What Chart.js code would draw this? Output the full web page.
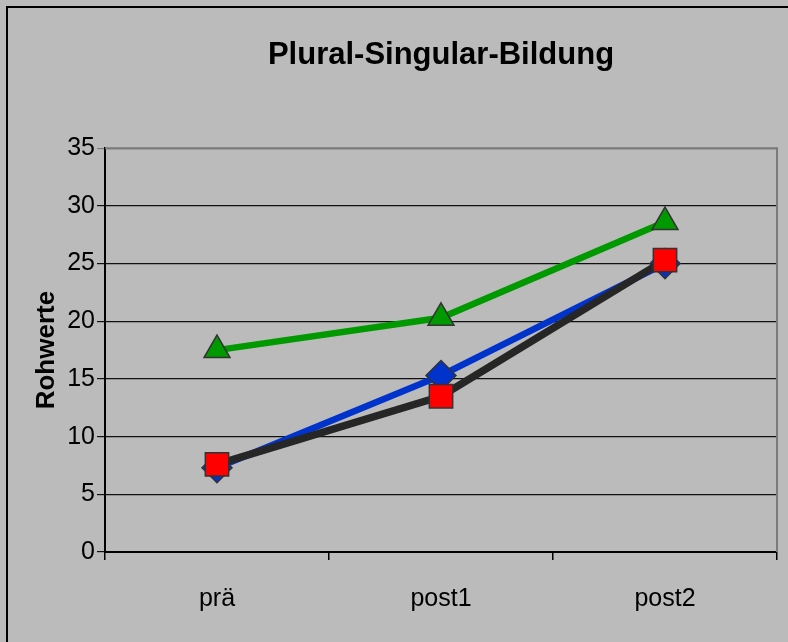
<!DOCTYPE html>
<html>
<head>
<meta charset="utf-8">
<script src="https://cdn.jsdelivr.net/npm/chart.js@4.4.0/dist/chart.umd.min.js"></script>
<style>
  html, body { margin: 0; padding: 0; background: #bbbbbb; overflow: hidden; }
  canvas { display: block; }
</style>
</head>
<body>
<canvas id="grafico" width="788" height="642"></canvas>
<script>
const kategorien = ['prä', 'post1', 'post2'];
const reiheBlau = [7.3, 15.3, 25.0];
const reiheSchwarz = [7.6, 13.5, 25.3];
const reiheGruen = [17.5, 20.3, 28.6];

// Rahmen oben/links und rechte/obere Kante der Zeichenfläche
const rahmen = {
    id: 'rahmen',
    beforeDraw(chart) {
        const ctx = chart.ctx;
        ctx.save();
        ctx.fillStyle = '#bbbbbb';
        ctx.fillRect(0, 0, chart.width, chart.height);
        ctx.strokeStyle = '#000';
        ctx.lineWidth = 2;
        ctx.beginPath();
        ctx.moveTo(7, chart.height);
        ctx.lineTo(7, 7);
        ctx.lineTo(chart.width, 7);
        ctx.stroke();
        ctx.restore();
    },
    beforeDatasetsDraw(chart) {
        const a = chart.chartArea;
        const ctx = chart.ctx;
        ctx.save();
        ctx.strokeStyle = '#7a7a7a';
        ctx.lineWidth = 2;
        ctx.beginPath();
        ctx.moveTo(a.left, a.top);
        ctx.lineTo(a.right, a.top);
        ctx.lineTo(a.right, a.bottom);
        ctx.stroke();
        ctx.restore();
    }
};

const config = {
    type: 'line',
    data: {
        labels: kategorien,
        datasets: [{
            data: reiheBlau,
            borderColor: '#0033cc',
            borderWidth: 6.5,
            pointStyle: 'rectRot',
            pointRadius: 15,
            pointBackgroundColor: '#0033cc',
            pointBorderColor: '#333333',
            pointBorderWidth: 1.5,
            order: 3
        }, {
            data: reiheSchwarz,
            borderColor: '#262626',
            borderWidth: 7.5,
            pointStyle: 'rect',
            pointRadius: 16.5,
            pointBackgroundColor: '#ff0000',
            pointBorderColor: '#333333',
            pointBorderWidth: 1.5,
            order: 2
        }, {
            data: reiheGruen,
            borderColor: '#009900',
            borderWidth: 6.5,
            pointStyle: 'triangle',
            pointRadius: 15,
            pointBackgroundColor: '#009900',
            pointBorderColor: '#333333',
            pointBorderWidth: 1.5,
            order: 1
        }]
    },
    options: {
        responsive: false,
        animation: false,
        layout: { autoPadding: false, padding: { left: 0, right: 11, top: 0, bottom: 0 } },
        plugins: {
            legend: { display: false },
            tooltip: { enabled: false },
            title: {
                display: true,
                text: 'Plural-Singular-Bildung',
                fullSize: false,
                color: '#000',
                font: { family: 'Arial, "Liberation Sans"', size: 31, weight: 'bold' },
                padding: { top: 37, bottom: 74 }
            }
        },
        scales: {
            x: {
                offset: true,
                grid: {
                    offset: true,
                    drawOnChartArea: false,
                    drawTicks: true,
                    tickLength: 8,
                    color: '#000',
                    lineWidth: 1.5
                },
                border: { display: true, color: '#000', width: 2 },
                ticks: {
                    color: '#000',
                    padding: 24,
                    maxRotation: 0,
                    font: { family: 'Arial, "Liberation Sans"', size: 25 }
                },
                afterFit(scale) {
                    scale.height = 90;
                    scale.paddingLeft = 0;
                    scale.paddingRight = 0;
                }
            },
            y: {
                min: 0,
                max: 35,
                ticks: {
                    stepSize: 5,
                    color: '#000',
                    padding: 2,
                    font: { family: 'Arial, "Liberation Sans"', size: 25 }
                },
                grid: {
                    color: ctx => ctx.tick && ctx.tick.value === 35 ? '#7a7a7a' : '#111',
                    lineWidth: 1.2,
                    tickLength: 8
                },
                border: { display: true, color: '#000', width: 2 },
                title: {
                    display: true,
                    text: 'Rohwerte',
                    color: '#000',
                    font: { family: 'Arial, "Liberation Sans"', size: 26, weight: 'bold' },
                    padding: { top: 31, bottom: 0 }
                },
                afterFit(scale) { scale.width = 105; }
            }
        }
    },
    plugins: [rahmen]
};

const ctx = document.getElementById('grafico').getContext('2d');
window.meinGrafik = new Chart(ctx, config);
</script>
</body>
</html>
